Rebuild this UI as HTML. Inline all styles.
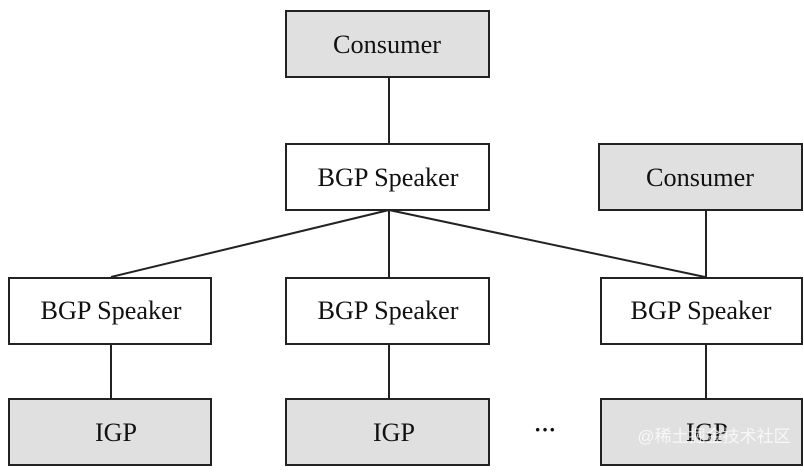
<!DOCTYPE html>
<html><head><style>
body{margin:0;width:804px;height:467px;background:#fff;overflow:hidden}
</style></head><body>
<svg width="804" height="467" xmlns="http://www.w3.org/2000/svg" font-family="Liberation Serif, serif" font-size="26" text-anchor="middle">
<g stroke="#222" stroke-width="2">
<line x1="389" y1="77" x2="389" y2="143"/>
<line x1="389" y1="210" x2="389" y2="277"/>
<line x1="389" y1="210" x2="111" y2="277"/>
<line x1="389" y1="210" x2="705" y2="277"/>
<line x1="706" y1="210" x2="706" y2="277"/>
<line x1="111" y1="344" x2="111" y2="398"/>
<line x1="389" y1="344" x2="389" y2="398"/>
<line x1="706" y1="344" x2="706" y2="398"/>
</g>
<g stroke="#222" stroke-width="2">
<rect x="286" y="11" width="203" height="66" fill="#e0e0e0"/>
<rect x="286" y="144" width="203" height="66" fill="#fff"/>
<rect x="599" y="144" width="203" height="66" fill="#e0e0e0"/>
<rect x="9" y="278" width="202" height="66" fill="#fff"/>
<rect x="286" y="278" width="203" height="66" fill="#fff"/>
<rect x="601" y="278" width="201" height="66" fill="#fff"/>
<rect x="9" y="399" width="202" height="66" fill="#e0e0e0"/>
<rect x="286" y="399" width="203" height="66" fill="#e0e0e0"/>
<rect x="601" y="399" width="201" height="66" fill="#e0e0e0"/>
</g>
<g fill="#111">
<text x="387" y="53" textLength="108" lengthAdjust="spacingAndGlyphs">Consumer</text>
<text x="388" y="186" textLength="141" lengthAdjust="spacingAndGlyphs">BGP Speaker</text>
<text x="700" y="186" textLength="108" lengthAdjust="spacingAndGlyphs">Consumer</text>
<text x="111" y="319" textLength="141" lengthAdjust="spacingAndGlyphs">BGP Speaker</text>
<text x="388" y="319" textLength="141" lengthAdjust="spacingAndGlyphs">BGP Speaker</text>
<text x="701" y="319" textLength="141" lengthAdjust="spacingAndGlyphs">BGP Speaker</text>
<text x="116" y="441" textLength="42" lengthAdjust="spacingAndGlyphs">IGP</text>
<text x="394" y="441" textLength="42" lengthAdjust="spacingAndGlyphs">IGP</text>
<text x="707" y="441" textLength="42" lengthAdjust="spacingAndGlyphs">IGP</text>
<text x="545" y="437" font-size="22" font-weight="bold">···</text>
</g>
<text x="714" y="442" font-family="Liberation Sans, Noto Sans CJK SC, sans-serif" font-size="17" fill="#fff" fill-opacity="0.75">@稀土掘金技术社区</text>
</svg>
</body></html>
